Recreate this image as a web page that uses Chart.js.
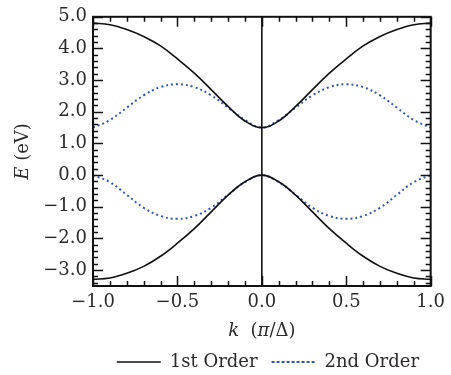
<!DOCTYPE html>
<html>
<head>
<meta charset="utf-8">
<script src="https://cdn.jsdelivr.net/npm/chart.js@4/dist/chart.umd.min.js"></script>
<style>
  html, body { margin: 0; padding: 0; background: #fff; }
  canvas { display: block; }
</style>
</head>
<body>
<canvas id="c" width="451" height="375"></canvas>
<script>
// ---- data ----
const kValues = [-1.0, -0.9, -0.8, -0.7, -0.6, -0.5, -0.4, -0.3, -0.2, -0.1, 0.0,
                  0.1, 0.2, 0.3, 0.4, 0.5, 0.6, 0.7, 0.8, 0.9, 1.0];
const firstOrderUpper = [4.80, 4.75, 4.60, 4.38, 4.08, 3.67, 3.22, 2.70, 2.17, 1.71, 1.50,
                         1.71, 2.17, 2.70, 3.22, 3.67, 4.08, 4.38, 4.60, 4.75, 4.80];
const firstOrderLower = [-3.29, -3.25, -3.10, -2.88, -2.56, -2.15, -1.69, -1.16, -0.63, -0.21, 0.00,
                         -0.21, -0.63, -1.16, -1.69, -2.15, -2.56, -2.88, -3.10, -3.25, -3.29];
const secondOrderUpper = [1.50, 1.74, 2.13, 2.52, 2.78, 2.87, 2.78, 2.52, 2.13, 1.74, 1.50,
                          1.74, 2.13, 2.52, 2.78, 2.87, 2.78, 2.52, 2.13, 1.74, 1.50];
const secondOrderLower = [0.00, -0.22, -0.62, -1.03, -1.29, -1.38, -1.29, -1.03, -0.62, -0.22, 0.00,
                          -0.22, -0.62, -1.03, -1.29, -1.38, -1.29, -1.03, -0.62, -0.22, 0.00];
const zeroLineK = [0.0, 0.0];
const zeroLineE = [-3.5, 5.0];
const xTickValues = [-1.0, -0.5, 0.0, 0.5, 1.0];
const yTickValues = [-3.0, -2.0, -1.0, 0.0, 1.0, 2.0, 3.0, 4.0, 5.0];
const xRange = [-1.0, 1.0];
const yRange = [-3.5, 5.0];
const seriesLabels = ['1st Order', '2nd Order'];

// ---- helpers ----
const pts = (xs, ys) => xs.map((x, i) => ({x: x, y: ys[i]}));
const fmt = v => (v < 0 ? '\u2212' : '') + Math.abs(v).toFixed(1);
const FONT = "'DejaVu Serif', serif";
const BLACK = '#111111';
const BLUE = '#3556ad';
const TEXT = '#2b2b2b';

const frameTicks = {
  id: 'frameTicks',
  afterDatasetsDraw(chart) {
    const {ctx, chartArea: a, scales: {x, y}} = chart;
    ctx.save();
    ctx.strokeStyle = BLACK;
    ctx.lineWidth = 1.5;
    ctx.beginPath();
    for (let i = -10; i <= 10; i++) {
      const px = Math.round(x.getPixelForValue(i / 10)) + 0.5;
      const L = (i % 5 === 0) ? 10 : 5;
      ctx.moveTo(px, a.bottom); ctx.lineTo(px, a.bottom - L);
      ctx.moveTo(px, a.top); ctx.lineTo(px, a.top + L);
    }
    for (let i = -17; i <= 25; i++) {
      const py = Math.round(y.getPixelForValue(i / 5)) + 0.5;
      const L = (i % 5 === 0) ? 10 : 5;
      ctx.moveTo(a.left, py); ctx.lineTo(a.left + L, py);
      ctx.moveTo(a.right, py); ctx.lineTo(a.right - L, py);
    }
    ctx.stroke();
    ctx.lineWidth = 2;
    ctx.strokeRect(a.left, a.top, a.right - a.left, a.bottom - a.top);
    ctx.restore();
  }
};

const axisTitles = {
  id: 'axisTitles',
  afterDraw(chart) {
    const {ctx, chartArea: a} = chart;
    const drawParts = (parts, cx, cy, rot) => {
      ctx.save();
      ctx.translate(cx, cy);
      ctx.rotate(rot);
      ctx.fillStyle = TEXT;
      ctx.textBaseline = 'middle';
      ctx.textAlign = 'left';
      let total = 0;
      parts.forEach(p => { ctx.font = p.font; p.w = ctx.measureText(p.t).width; total += p.w; });
      let xx = -total / 2;
      parts.forEach(p => { ctx.font = p.font; ctx.fillText(p.t, xx, 0); xx += p.w; });
      ctx.restore();
    };
    drawParts([
      {t: 'E', font: "italic 18px " + FONT},
      {t: ' (eV)', font: "18px " + FONT}
    ], 23, (a.top + a.bottom) / 2, -Math.PI / 2);
    drawParts([
      {t: 'k', font: "italic 18px " + FONT},
      {t: '  (', font: "18px " + FONT},
      {t: '\u03C0', font: "italic 18px " + FONT},
      {t: '/\u0394)', font: "18px " + FONT}
    ], (a.left + a.right) / 2, 331, 0);
  }
};

const curve = (label, ys, color, dash, legend) => ({
  label: label,
  data: pts(kValues, ys),
  borderColor: color,
  backgroundColor: 'rgba(0,0,0,0)',
  borderWidth: dash ? 2 : 1.6,
  borderDash: dash || [],
  pointRadius: 0,
  fill: false,
  tension: 0.4,
  showInLegend: legend
});

new Chart(document.getElementById('c'), {
  type: 'line',
  data: {
    datasets: [
      curve(seriesLabels[0], firstOrderUpper, BLACK, null, true),
      curve(seriesLabels[0], firstOrderLower, BLACK, null, false),
      curve(seriesLabels[1], secondOrderUpper, BLUE, [2, 3], true),
      curve(seriesLabels[1], secondOrderLower, BLUE, [2, 3], false),
      {
        label: 'k = 0',
        data: pts(zeroLineK, zeroLineE),
        borderColor: BLACK,
        borderWidth: 1.6,
        pointRadius: 0,
        fill: false,
        showInLegend: false
      }
    ]
  },
  options: {
    responsive: false,
    devicePixelRatio: 1,
    animation: false,
    layout: { padding: { top: 16, right: 18, left: 0, bottom: -6 } },
    plugins: {
      tooltip: { enabled: false },
      legend: {
        position: 'bottom',
        align: 'end',
        labels: {
          filter: (item, data) => data.datasets[item.datasetIndex].showInLegend,
          usePointStyle: false,
          boxWidth: 44,
          boxHeight: 0,
          padding: 14,
          color: TEXT,
          font: { family: FONT, size: 18 }
        }
      }
    },
    scales: {
      x: {
        type: 'linear',
        min: xRange[0],
        max: xRange[1],
        grid: { display: false, drawTicks: false },
        border: { display: false },
        afterBuildTicks: s => { s.ticks = xTickValues.map(v => ({value: v})); },
        afterFit: s => { s.height = 53; },
        ticks: {
          padding: 6,
          autoSkip: false,
          maxRotation: 0,
          color: TEXT,
          font: { family: FONT, size: 18 },
          callback: v => fmt(v)
        }
      },
      y: {
        type: 'linear',
        min: yRange[0],
        max: yRange[1],
        grid: { display: false, drawTicks: false },
        border: { display: false },
        afterBuildTicks: s => { s.ticks = yTickValues.map(v => ({value: v})); },
        afterFit: s => { s.width = 93; },
        ticks: {
          padding: 6,
          color: TEXT,
          font: { family: FONT, size: 18 },
          callback: v => fmt(v)
        }
      }
    }
  },
  plugins: [frameTicks, axisTitles]
});
</script>
</body>
</html>
